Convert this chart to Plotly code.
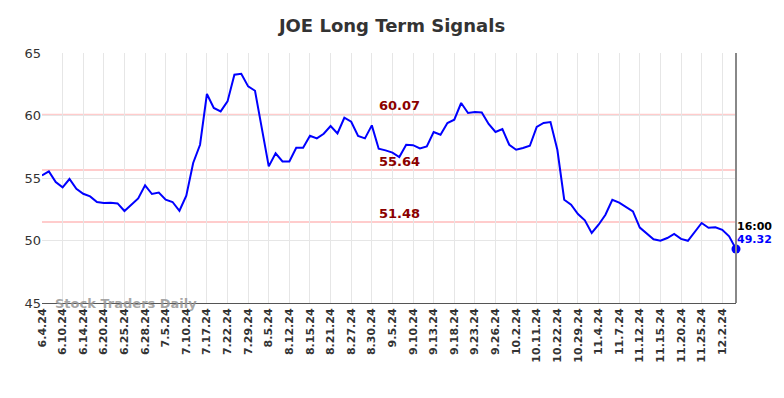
import plotly.graph_objects as go

tick_labels = ["6.4.24", "6.10.24", "6.14.24", "6.20.24", "6.25.24", "6.28.24", "7.5.24",
               "7.10.24", "7.17.24", "7.22.24", "7.29.24", "8.5.24", "8.12.24", "8.15.24",
               "8.21.24", "8.27.24", "8.30.24", "9.5.24", "9.10.24", "9.13.24", "9.18.24",
               "9.23.24", "9.26.24", "10.2.24", "10.11.24", "10.22.24", "10.29.24", "11.4.24",
               "11.7.24", "11.12.24", "11.15.24", "11.20.24", "11.25.24", "12.2.24"]

prices = [55.21, 55.53, 54.68, 54.25, 54.92, 54.14, 53.74, 53.53, 53.08, 53.00,
          53.02, 52.97, 52.36, 52.84, 53.37, 54.41, 53.72, 53.84, 53.26, 53.08,
          52.38, 53.58, 56.20, 57.66, 61.72, 60.60, 60.33, 61.13, 63.26, 63.34,
          62.33, 61.98, 59.00, 55.93, 56.98, 56.33, 56.33, 57.42, 57.42, 58.38,
          58.17, 58.54, 59.16, 58.57, 59.82, 59.50, 58.36, 58.17, 59.21, 57.34,
          57.21, 57.03, 56.68, 57.66, 57.63, 57.37, 57.53, 58.68, 58.46, 59.40,
          59.66, 61.00, 60.20, 60.28, 60.25, 59.32, 58.68, 58.92, 57.66, 57.26,
          57.40, 57.58, 59.08, 59.40, 59.48, 57.26, 53.26, 52.86, 52.12, 51.61,
          50.60, 51.26, 52.06, 53.26, 53.03, 52.65, 52.33, 51.03, 50.56, 50.10,
          49.98, 50.20, 50.53, 50.13, 49.98, 50.65, 51.40, 51.02, 51.06, 50.86,
          50.33, 49.32]

levels = [60.07, 55.64, 51.48]
level_labels = ["60.07", "55.64", "51.48"]
last_time = "16:00"

FONT = "DejaVu Sans"
x_idx = list(range(len(prices)))
tick_pos = list(range(0, len(prices), 3))[:len(tick_labels)]

fig = go.Figure()

for lv in levels:
    fig.add_shape(type="line", xref="paper", x0=0, x1=1, yref="y", y0=lv, y1=lv,
                  line=dict(color="#ffcccc", width=2), layer="below")

fig.add_trace(go.Scatter(x=x_idx, y=prices, mode="lines",
                         line=dict(color="#0000ff", width=2), hoverinfo="skip",
                         showlegend=False))
fig.add_trace(go.Scatter(x=[x_idx[-1]], y=[prices[-1]], mode="markers",
                         marker=dict(color="#0000ff", size=9), cliponaxis=False,
                         hoverinfo="skip", showlegend=False))

mid = x_idx[len(x_idx) // 2 + 1]
for lv, lab in zip(levels, level_labels):
    fig.add_annotation(x=mid, y=lv, xref="x", yref="y", text="<b>%s</b>" % lab,
                       showarrow=False, yshift=9, xanchor="center", yanchor="middle",
                       font=dict(family=FONT, size=13, color="#8b0000"))

fig.add_annotation(x=x_idx[-1], y=prices[-1], xref="x", yref="y", text="<b>%s</b>" % last_time,
                   showarrow=False, xanchor="left", yanchor="middle", yshift=23, xshift=-1,
                   font=dict(family=FONT, size=11, color="#000000"))
fig.add_annotation(x=x_idx[-1], y=prices[-1], xref="x", yref="y", text="<b>%.2f</b>" % prices[-1],
                   showarrow=False, xanchor="left", yanchor="middle", yshift=10, xshift=-1,
                   font=dict(family=FONT, size=11, color="#0000ff"))

fig.add_annotation(x=0.016, y=0, xref="paper", yref="paper", text="<b>Stock Traders Daily</b>",
                   showarrow=False, xanchor="left", yanchor="middle",
                   font=dict(family=FONT, size=13, color="rgba(150,150,150,0.85)"))

fig.add_shape(type="line", xref="paper", yref="paper", x0=1, x1=1, y0=0, y1=1,
              line=dict(color="#888888", width=2))

fig.update_layout(
    width=784, height=398,
    margin=dict(l=42, r=48, t=53, b=95),
    paper_bgcolor="white", plot_bgcolor="white",
    title=dict(text="<b>JOE Long Term Signals</b>", x=0.5, xanchor="center",
               y=0.935, yanchor="middle",
               font=dict(family=FONT, size=18, color="#333333")),
    xaxis=dict(range=[0, len(prices) - 1], tickmode="array", tickvals=tick_pos,
               ticktext=["<b>%s</b>" % t for t in tick_labels], tickangle=-90,
               tickfont=dict(family=FONT, size=11, color="#333333"),
               showgrid=True, gridcolor="#e6e6e6", gridwidth=1,
               showline=True, linecolor="#555555", linewidth=1, zeroline=False,
               ticks=""),
    yaxis=dict(range=[45, 65], tickvals=[45, 50, 55, 60, 65],
               tickfont=dict(family=FONT, size=13, color="#333333"),
               showgrid=True, gridcolor="#e6e6e6", gridwidth=1, zeroline=False,
               showline=False, ticks=""),
)

fig.write_html("out.html", config={"displayModeBar": False},
               post_script="document.body.style.margin='0';document.body.style.overflow='hidden';")
